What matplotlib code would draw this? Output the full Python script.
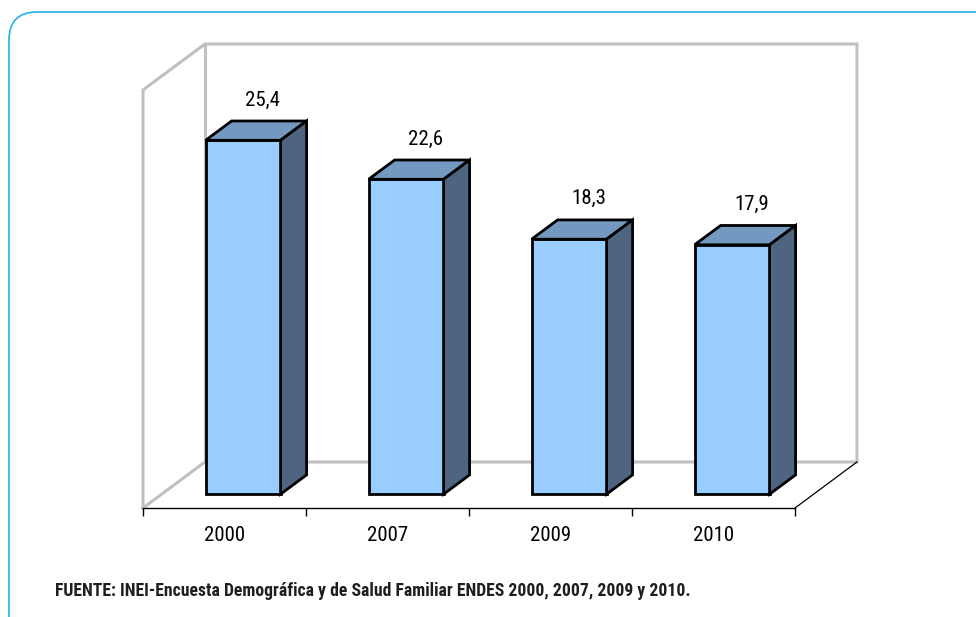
import matplotlib
matplotlib.use("Agg")
import matplotlib.pyplot as plt
from matplotlib.patches import Polygon, FancyBboxPatch

# Data ------------------------------------------------------------------------
years = ["2000", "2007", "2009", "2010"]
values = [25.4, 22.6, 18.3, 17.9]
value_labels = ["25,4", "22,6", "18,3", "17,9"]
source_note = ("FUENTE: INEI-Encuesta Demográfica y de Salud Familiar "
               "ENDES 2000, 2007, 2009 y 2010.")

# Style -----------------------------------------------------------------------
FONT = ["Roboto Condensed", "Archivo Narrow", "DejaVu Sans"]
FRONT = "#99CCFF"
TOP = "#7399C0"
SIDE = "#4E6480"
WALL = "#C0C0C0"
BORDER = "#22B0E8"

YMAX = 30.0
DX = 0.38          # full depth, horizontal (category units)
DY = 3.30          # full depth, vertical (value units)
D0, D1 = 0.30, 0.72  # bar depth range (fraction of full depth)
HALF_W = 0.23

fig = plt.figure(figsize=(9.76, 6.17), dpi=100)
ax = fig.add_axes([143 / 976, 109 / 617, 652 / 976, 418 / 617])
ax.set_xlim(0, len(years))
ax.set_ylim(0, YMAX)

n = len(years)


def poly(pts, fc, ec, lw, z):
    p = Polygon(pts, closed=True, facecolor=fc, edgecolor=ec, linewidth=lw,
                zorder=z, clip_on=False, joinstyle="miter")
    ax.add_patch(p)


def line(xs, ys, color, lw, z=1):
    ax.plot(xs, ys, color=color, linewidth=lw, zorder=z, clip_on=False,
            solid_joinstyle="miter")


# walls and floor
line([0, 0, DX, n + DX, n + DX, DX, 0], [0, YMAX, YMAX + DY, YMAX + DY, DY, DY, 0], WALL, 2.2)
line([DX, DX], [DY, YMAX + DY], WALL, 2.2)
line([n, n + DX], [0, DY], "black", 0.9, 2)

# bars
for i, v in enumerate(values):
    x0 = i + 0.5 - HALF_W + D0 * DX
    x1 = i + 0.5 + HALF_W + D0 * DX
    y0 = D0 * DY
    y1 = y0 + v
    ox = (D1 - D0) * DX
    oy = (D1 - D0) * DY
    poly([(x0, y0), (x1, y0), (x1, y1), (x0, y1)], FRONT, "black", 2.0, 3)
    poly([(x0, y1), (x1, y1), (x1 + ox, y1 + oy), (x0 + ox, y1 + oy)], TOP, "black", 2.0, 3)
    poly([(x1, y0), (x1 + ox, y0 + oy), (x1 + ox, y1 + oy), (x1, y1)], SIDE, "black", 2.0, 3)
    ax.text(i + 0.5 + D0 * DX + 0.12, y1 + 2.9, value_labels[i], ha="center",
            va="center", fontsize=15, family=FONT, zorder=4)

# axis
for s in ["top", "right", "left"]:
    ax.spines[s].set_visible(False)
ax.spines["bottom"].set_linewidth(1.0)
ax.spines["bottom"].set_zorder(2)
ax.set_yticks([])
ax.set_xticks(range(n + 1))
ax.set_xticklabels([])
ax.tick_params(axis="x", which="major", direction="out", length=6, width=1.0)
ax.set_xticks([i + 0.5 for i in range(n)], minor=True)
ax.set_xticklabels(years, minor=True, fontsize=15, family=FONT)
ax.tick_params(axis="x", which="minor", length=0, pad=13)
ax.patch.set_visible(False)

# source note
fig.text(55 / 976, 1 - 591 / 617, source_note, ha="left", va="center",
         fontsize=12.7, fontweight="bold", family=FONT, color="#1E1E1E")

# rounded frame
frame = FancyBboxPatch((0.09, -0.4), 10.2, 6.45,
                       boxstyle="round,pad=0,rounding_size=0.28",
                       transform=fig.dpi_scale_trans, facecolor="none",
                       edgecolor=BORDER, linewidth=1.2)
fig.patches.append(frame)

fig.savefig("out.png", dpi=100)
